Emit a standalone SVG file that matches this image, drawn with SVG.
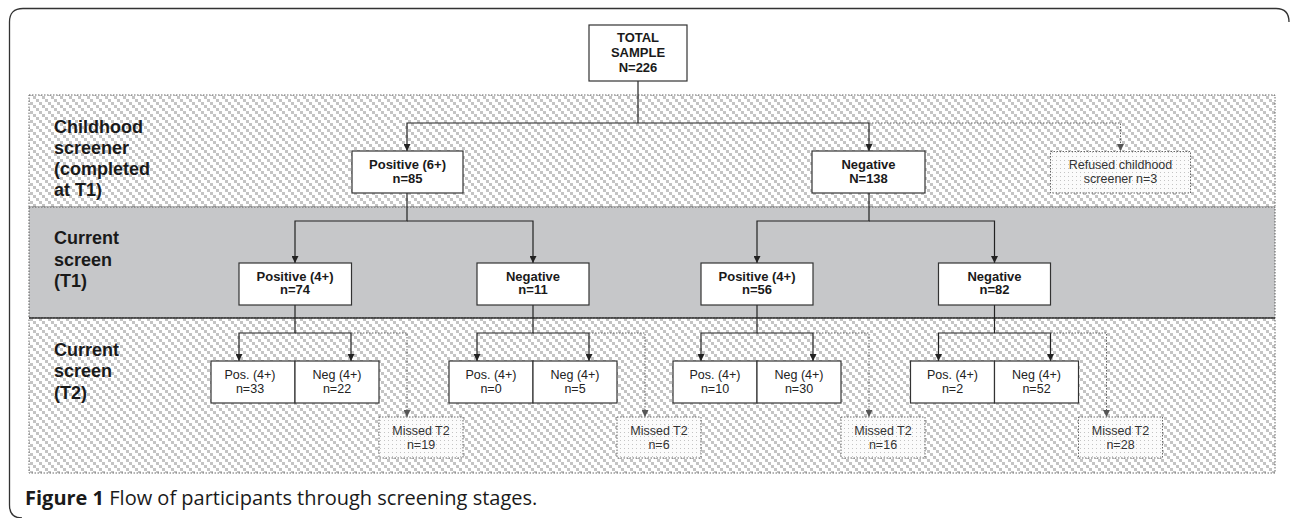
<svg xmlns="http://www.w3.org/2000/svg" width="1290" height="518" viewBox="0 0 1290 518">
<style>
.box{fill:#fff;stroke:#333;stroke-width:1.2}
.dbox{fill:url(#dots);stroke:#666;stroke-width:1;stroke-dasharray:1.5 1.5}
.bt{font-family:"Liberation Sans",Arial,sans-serif;font-size:13px;font-weight:bold;fill:#1a1a1a;text-anchor:middle}
.nt{font-family:"Liberation Sans",Arial,sans-serif;font-size:12.5px;fill:#222;text-anchor:middle}
.gt{font-family:"Liberation Sans",Arial,sans-serif;font-size:12.5px;fill:#333;text-anchor:middle}
.lab{font-family:"Liberation Sans",Arial,sans-serif;font-size:18px;font-weight:bold;fill:#1a1a1a}
.cap{font-family:"Open Sans","Noto Sans",sans-serif;font-size:20px;fill:#1a1a1a}
.ln{fill:none;stroke:#222;stroke-width:1.2}
.dl{fill:none;stroke:#666;stroke-width:1;stroke-dasharray:1.5 1.5}
</style>
<defs>
<pattern id="hatch" width="9" height="9" patternUnits="userSpaceOnUse">
<rect width="9" height="9" fill="#fff"/>
<rect x="0" y="0" width="3" height="3" fill="#c4c4c4"/>
<rect x="3" y="3" width="3" height="3" fill="#c4c4c4"/>
<rect x="6" y="6" width="3" height="3" fill="#c4c4c4"/>
</pattern>
<pattern id="dots" width="4" height="4" patternUnits="userSpaceOnUse">
<rect width="4" height="4" fill="#fbfbfb"/>
<rect width="1" height="1" fill="#c4c4c4"/>
</pattern>
<marker id="ar" viewBox="0 0 8 8" refX="8" refY="4" markerWidth="7" markerHeight="7" markerUnits="userSpaceOnUse" orient="auto">
<path d="M0,0 L8,4 L0,8 Z" fill="#222"/>
</marker>
<marker id="ag" viewBox="0 0 8 8" refX="8" refY="4" markerWidth="7" markerHeight="7" markerUnits="userSpaceOnUse" orient="auto">
<path d="M0,0 L8,4 L0,8 Z" fill="#555"/>
</marker>
</defs>

<rect x="0" y="0" width="1290" height="518" fill="#fff"/>
<path d="M22,518 Q9.5,518 9.5,505 V22 Q9.5,8.5 23,8.5 H1276 Q1289,8.5 1289,22" fill="none" stroke="#333" stroke-width="1.3"/>

<g id="bands">
<rect x="29" y="95" width="1246" height="112" fill="url(#hatch)" stroke="#666" stroke-width="1" stroke-dasharray="1.5 1.5"/>
<rect x="29" y="207" width="1246" height="111" fill="#c6c7c9" stroke="#555" stroke-width="1" stroke-dasharray="1.5 1.5"/>
<rect x="29" y="318" width="1246" height="155" fill="url(#hatch)" stroke="#666" stroke-width="1" stroke-dasharray="1.5 1.5"/>
<line x1="29" y1="318" x2="1275" y2="318" stroke="#333" stroke-width="1.3"/>
</g>

<g id="labels">
<text class="lab" x="54" y="132.5">Childhood</text>
<text class="lab" x="54" y="153.5">screener</text>
<text class="lab" x="54" y="174.5">(completed</text>
<text class="lab" x="54" y="196">at T1)</text>
<text class="lab" x="54" y="244">Current</text>
<text class="lab" x="54" y="265.5">screen</text>
<text class="lab" x="54" y="287">(T1)</text>
<text class="lab" x="54" y="355.5">Current</text>
<text class="lab" x="54" y="377">screen</text>
<text class="lab" x="54" y="398.5">(T2)</text>
</g>

<g id="connectors">
<path class="ln" d="M638,81 V123"/>
<path class="ln" d="M869,123 H407 V151" marker-end="url(#ar)"/>
<path class="ln" d="M869,123 V151" marker-end="url(#ar)"/>
<path class="dl" d="M869,123 H1120.5 V151" marker-end="url(#ag)"/>

<path class="ln" d="M407,193 V221 H295 V263" marker-end="url(#ar)"/>
<path class="ln" d="M407,221 H533 V263" marker-end="url(#ar)"/>
<path class="ln" d="M869,193 V221 H757 V263" marker-end="url(#ar)"/>
<path class="ln" d="M869,221 H994.5 V263" marker-end="url(#ar)"/>

<path class="ln" d="M295,305 V333 H239 V361" marker-end="url(#ar)"/>
<path class="ln" d="M295,333 H351 V361" marker-end="url(#ar)"/>
<path class="dl" d="M351,333 H407 V417" marker-end="url(#ag)"/>

<path class="ln" d="M533,305 V333 H477 V361" marker-end="url(#ar)"/>
<path class="ln" d="M533,333 H589 V361" marker-end="url(#ar)"/>
<path class="dl" d="M589,333 H645 V417" marker-end="url(#ag)"/>

<path class="ln" d="M757,305 V333 H701 V361" marker-end="url(#ar)"/>
<path class="ln" d="M757,333 H813 V361" marker-end="url(#ar)"/>
<path class="dl" d="M813,333 H869 V417" marker-end="url(#ag)"/>

<path class="ln" d="M994.5,305 V333 H938.5 V361" marker-end="url(#ar)"/>
<path class="ln" d="M994.5,333 H1050.5 V361" marker-end="url(#ar)"/>
<path class="dl" d="M1050.5,333 H1106.5 V417" marker-end="url(#ag)"/>
</g>

<g id="total">
<rect class="box" x="589" y="25" width="98" height="56"/>
<text class="bt" x="638" y="41.5">TOTAL</text>
<text class="bt" x="638" y="56.5">SAMPLE</text>
<text class="bt" x="638" y="71.5">N=226</text>
</g>

<g id="pos6">
<rect class="box" x="352" y="151" width="111" height="42"/>
<text class="bt" x="407.5" y="168.5">Positive (6+)</text>
<text class="bt" x="407.5" y="182.5">n=85</text>
</g>
<g id="neg138">
<rect class="box" x="812" y="151" width="113" height="42"/>
<text class="bt" x="868.5" y="168.5">Negative</text>
<text class="bt" x="868.5" y="182.5">N=138</text>
</g>
<g id="refused">
<rect class="dbox" x="1050.5" y="151.5" width="140" height="41.5"/>
<text class="gt" x="1120.5" y="168.5">Refused childhood</text>
<text class="gt" x="1120.5" y="182.5">screener n=3</text>
</g>

<g id="pos74">
<rect class="box" x="239" y="263" width="112.5" height="42"/>
<text class="bt" x="295" y="280.5">Positive (4+)</text>
<text class="bt" x="295" y="294">n=74</text>
</g>
<g id="neg11">
<rect class="box" x="477" y="263" width="112" height="42"/>
<text class="bt" x="533" y="280.5">Negative</text>
<text class="bt" x="533" y="294">n=11</text>
</g>
<g id="pos56">
<rect class="box" x="701" y="263" width="112" height="42"/>
<text class="bt" x="757" y="280.5">Positive (4+)</text>
<text class="bt" x="757" y="294">n=56</text>
</g>
<g id="neg82">
<rect class="box" x="938.5" y="263" width="112" height="42"/>
<text class="bt" x="994.5" y="280.5">Negative</text>
<text class="bt" x="994.5" y="294">n=82</text>
</g>

<g id="t2-pos33">
<rect class="box" x="211" y="361" width="84" height="42"/>
<text class="nt" x="250" y="378.5">Pos. (4+)</text>
<text class="nt" x="250" y="392.5">n=33</text>
</g>
<g id="t2-neg22">
<rect class="box" x="295" y="361" width="84" height="42"/>
<text class="nt" x="337" y="378.5">Neg (4+)</text>
<text class="nt" x="337" y="392.5">n=22</text>
</g>
<g id="missed19">
<rect class="dbox" x="379" y="417" width="84" height="41"/>
<text class="gt" x="421" y="434.5">Missed T2</text>
<text class="gt" x="421" y="448.5">n=19</text>
</g>

<g id="t2-pos0">
<rect class="box" x="449" y="361" width="84" height="42"/>
<text class="nt" x="491" y="378.5">Pos. (4+)</text>
<text class="nt" x="491" y="392.5">n=0</text>
</g>
<g id="t2-neg5">
<rect class="box" x="533" y="361" width="84" height="42"/>
<text class="nt" x="575" y="378.5">Neg (4+)</text>
<text class="nt" x="575" y="392.5">n=5</text>
</g>
<g id="missed6">
<rect class="dbox" x="617" y="417" width="84" height="41"/>
<text class="gt" x="659" y="434.5">Missed T2</text>
<text class="gt" x="659" y="448.5">n=6</text>
</g>

<g id="t2-pos10">
<rect class="box" x="673" y="361" width="84" height="42"/>
<text class="nt" x="715" y="378.5">Pos. (4+)</text>
<text class="nt" x="715" y="392.5">n=10</text>
</g>
<g id="t2-neg30">
<rect class="box" x="757" y="361" width="84" height="42"/>
<text class="nt" x="799" y="378.5">Neg (4+)</text>
<text class="nt" x="799" y="392.5">n=30</text>
</g>
<g id="missed16">
<rect class="dbox" x="841" y="417" width="84" height="41"/>
<text class="gt" x="883" y="434.5">Missed T2</text>
<text class="gt" x="883" y="448.5">n=16</text>
</g>

<g id="t2-pos2">
<rect class="box" x="910.5" y="361" width="84" height="42"/>
<text class="nt" x="952.5" y="378.5">Pos. (4+)</text>
<text class="nt" x="952.5" y="392.5">n=2</text>
</g>
<g id="t2-neg52">
<rect class="box" x="994.5" y="361" width="84" height="42"/>
<text class="nt" x="1036.5" y="378.5">Neg (4+)</text>
<text class="nt" x="1036.5" y="392.5">n=52</text>
</g>
<g id="missed28">
<rect class="dbox" x="1078.5" y="417" width="84" height="41"/>
<text class="gt" x="1120.5" y="434.5">Missed T2</text>
<text class="gt" x="1120.5" y="448.5">n=28</text>
</g>

<text class="cap" x="25" y="505"><tspan font-weight="bold">Figure 1</tspan> Flow of participants through screening stages.</text>
</svg>
